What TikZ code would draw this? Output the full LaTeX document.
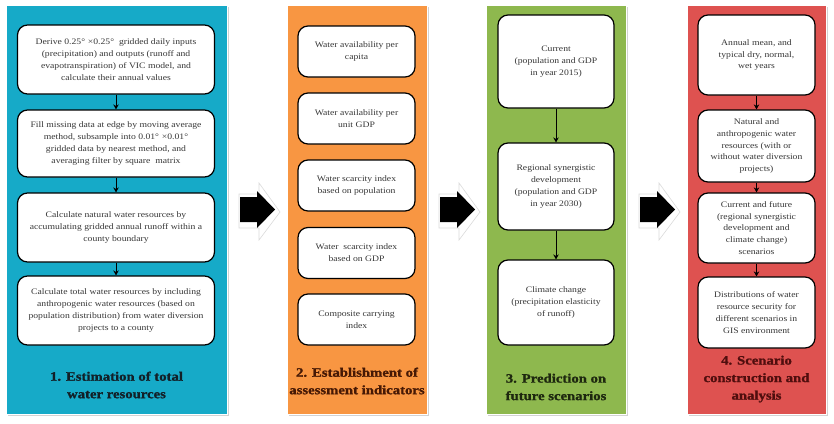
\documentclass[tikz,border=0pt]{standalone}
\usepackage{fontspec}
\setmainfont{Liberation Serif}[FakeStretch=1.15, BoldFeatures={FakeBold=1.2}]
\usetikzlibrary{arrows.meta,shadows}
\definecolor{pcyan}{RGB}{22,170,200}
\definecolor{porange}{RGB}{248,150,66}
\definecolor{pgreen}{RGB}{142,184,78}
\definecolor{pred}{RGB}{222,82,80}
\definecolor{tcyan}{RGB}{18,32,40}
\definecolor{torange}{RGB}{70,25,5}
\definecolor{tgreen}{RGB}{30,40,15}
\definecolor{tred}{RGB}{80,14,14}
\definecolor{boxtext}{RGB}{55,55,55}
\tikzset{
  panel/.style={draw=white, line width=1pt, inner sep=0pt,
    drop shadow={shadow xshift=2pt, shadow yshift=-2pt, fill=black!35, opacity=0.5}},
  box/.style={draw=black, line width=1.2pt, fill=white, rounded corners=10pt,
    align=center, inner sep=2pt, text=boxtext,
    font=\fontsize{8.4}{11.8}\selectfont},
  ptitle/.style={align=center, inner sep=0pt,
    font=\fontsize{12.8}{17.5}\selectfont\bfseries},
  flow/.style={-{Stealth[length=5pt,width=5.5pt]}, line width=1pt, draw=black},
  bigarrow/.style={fill=black},
  bigshadow/.style={fill=white, draw=black!14, line width=0.6pt},
}
\begin{document}
\begin{tikzpicture}[x=1pt,y=-1pt]
\useasboundingbox (0,0) rectangle (834,423);

% panels
\node[panel, fill=pcyan, minimum width=221pt, minimum height=409pt] (p1) at (116.5,209.5) {};
\node[panel, fill=porange, minimum width=140pt, minimum height=409pt] (p2) at (357,209.5) {};
\node[panel, fill=pgreen, minimum width=140pt, minimum height=409pt] (p3) at (556,209.5) {};
\node[panel, fill=pred, minimum width=139pt, minimum height=409pt] (p4) at (756.5,209.5) {};

% big arrows between panels
\foreach \dx in {0,200,400}{
  \begin{scope}[shift={(\dx,0)}]
    \path[bigshadow] (239,194) -- (259,194) -- (259,183) -- (280,212) -- (259,240) -- (259,228) -- (239,228) -- cycle;
    \path[bigarrow] (240,197) -- (257,197) -- (257,191) -- (275,209.5) -- (257,228) -- (257,222) -- (240,222) -- cycle;
  \end{scope}
}

% panel 1
\node[box, minimum width=197pt, minimum height=69pt] (a1) at (116,59.5)
  {Derive 0.25°\,\,×0.25°\ \ gridded daily inputs\\(precipitation) and outputs (runoff and\\evapotranspiration) of VIC model, and\\calculate their annual values};
\node[box, minimum width=197pt, minimum height=67pt] (a2) at (116,143.5)
  {Fill missing data at edge by moving average\\method, subsample into 0.01°\,\,×0.01°\\gridded data by nearest method, and\\averaging filter by square\ \ matrix};
\node[box, minimum width=197pt, minimum height=69pt] (a3) at (116,227.5)
  {Calculate natural water resources by\\accumulating gridded annual runoff within a\\county boundary};
\node[box, minimum width=197pt, minimum height=69pt] (a4) at (116,310.5)
  {Calculate total water resources by including\\anthropogenic water resources (based on\\population distribution) from water diversion\\projects to a county};
\node[ptitle, text=tcyan] (t1) at (116.5,385) {1. Estimation of total\\water resources};
\draw[flow] (a1) -- (a2);
\draw[flow] (a2) -- (a3);
\draw[flow] (a3) -- (a4);

% panel 2
\node[box, minimum width=117pt, minimum height=51pt] (b1) at (356.5,51.5) {Water availability per\\capita};
\node[box, minimum width=117pt, minimum height=51pt] (b2) at (356.5,118.5) {Water availability per\\unit GDP};
\node[box, minimum width=117pt, minimum height=51pt] (b3) at (356.5,185.5) {Water scarcity index\\based on population};
\node[box, minimum width=117pt, minimum height=51pt] (b4) at (356.5,253) {Water\ \ scarcity index\\based on GDP};
\node[box, minimum width=117pt, minimum height=51pt] (b5) at (356.5,319.5) {Composite carrying\\index};
\node[ptitle, text=torange] (t2) at (357,381) {2. Establishment of\\assessment indicators};

% panel 3
\node[box, minimum width=116pt, minimum height=93pt] (c1) at (556,61.5) {Current\\(population and GDP\\in year 2015)};
\node[box, minimum width=116pt, minimum height=87pt] (c2) at (556,186.5) {Regional synergistic\\development\\(population and GDP\\in year 2030)};
\node[box, minimum width=116pt, minimum height=85pt] (c3) at (556,302.5) {Climate change\\(precipitation elasticity\\of runoff)};
\node[ptitle, text=tgreen] (t3) at (556,387) {3. Prediction on\\future scenarios};
\draw[flow] (c1) -- (c2);
\draw[flow] (c2) -- (c3);

% panel 4
\node[box, minimum width=117pt, minimum height=80pt] (d1) at (756.5,55) {Annual mean, and\\typical dry, normal,\\wet years};
\node[box, minimum width=117pt, minimum height=72pt] (d2) at (756.5,146) {Natural and\\anthropogenic water\\resources (with or\\without water diversion\\projects)};
\node[box, minimum width=117pt, minimum height=70pt] (d3) at (756.5,228) {Current and future\\(regional synergistic\\development and\\climate change)\\scenarios};
\node[box, minimum width=117pt, minimum height=71pt] (d4) at (756.5,312.5) {Distributions of water\\resource security for\\different scenarios in\\GIS environment};
\node[ptitle, text=tred] (t4) at (756.5,379) {4. Scenario\\construction and\\analysis};
\draw[flow] (d1) -- (d2);
\draw[flow] (d2) -- (d3);
\draw[flow] (d3) -- (d4);
\end{tikzpicture}
\end{document}
